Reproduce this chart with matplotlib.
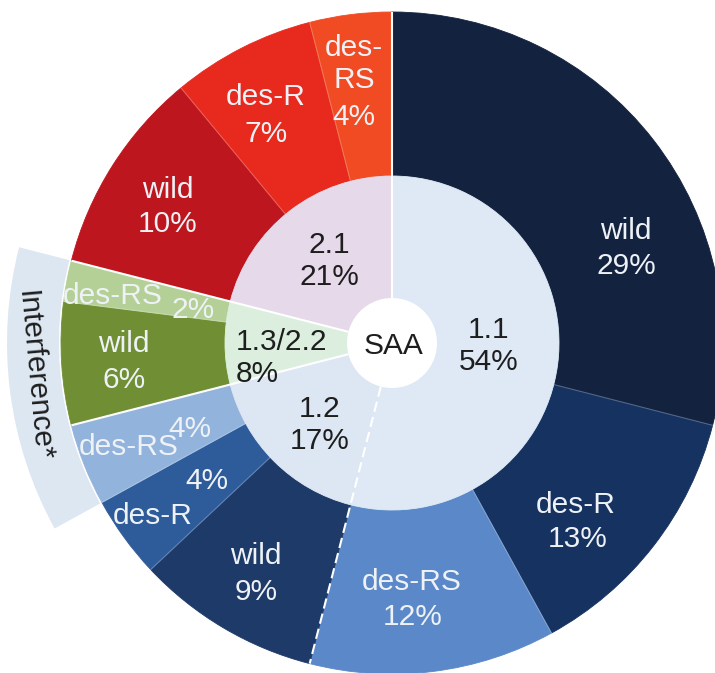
import matplotlib.pyplot as plt
import numpy as np
from matplotlib.patches import Wedge, Circle

plt.rcParams['font.family'] = ['Liberation Sans', 'DejaVu Sans']

# inner ring: groups, share of all SAA (%)
groups = ["1.1", "1.2", "1.3/2.2", "2.1"]
group_pct = [54, 17, 8, 21]

# outer ring: variants of each group, clockwise from 12 o'clock
variants = ["wild", "des-R", "des-RS",
            "wild", "des-R", "des-RS",
            "wild", "des-RS",
            "wild", "des-R", "des-RS"]
variant_pct = [29, 13, 12, 9, 4, 4, 6, 2, 10, 7, 4]

# variants covered by the "Interference*" band
band_variants = [5, 6, 7]
band_label = "Interference*"
centre_label = "SAA"

inner_colors = ["#dee9f5", "#dde7f3", "#dcefdf", "#e6d9ea"]
outer_colors = ["#13223f", "#163260", "#5a88c8",
                "#1d3a69", "#2e5c9b", "#92b3dc",
                "#708f34", "#b4d096",
                "#be161e", "#e8291e", "#f04b23"]
band_color = "#dce7f2"

# label placement, pixels from top-left: (name x, name y, pct x, pct y)
outer_label_pos = [(626, 231, 626, 266), (576, 505, 578, 539), (412, 582, 413, 617),
                   (256, 556, 256, 592), (153, 516, 207, 481), (129, 447, 190, 429),
                   (124, 344, 124, 380), (113, 296, 193, 310),
                   (168, 190, 168, 224), (266, 97, 266, 134), (354, 64, 354, 117)]
inner_label_pos = [(489, 346, 'center'), (320, 425, 'center'),
                   (236, 358, 'left'), (329, 261, 'center')]

W, H = 715, 673
CX, CY = 392, H - 343
R_OUT, R_IN, R_HOLE = 331, 167, 45
R_BAND = 385
FS = 21.5


def px(x, y):
    return x, H - y


fig = plt.figure(figsize=(W / 100, H / 100), dpi=100)
ax = fig.add_axes([0, 0, 1, 1])

# boundaries of the outer slices (degrees, going clockwise)
vb = 90 - 3.6 * np.cumsum([0] + variant_pct)
gb = 90 - 3.6 * np.cumsum([0] + group_pct)

# band behind the pie
t1 = vb[band_variants[-1] + 1]
t2 = vb[band_variants[0]]
ax.add_patch(Wedge((CX, CY), R_BAND, t1, t2, width=R_BAND - R_OUT - 2,
                   facecolor=band_color, lw=0))

wo, _ = ax.pie(variant_pct, radius=R_OUT, center=(CX, CY), startangle=90,
               counterclock=False, colors=outer_colors,
               wedgeprops=dict(width=R_OUT - R_IN, lw=0.6))
for w, c in zip(wo, outer_colors):
    w.set_edgecolor(c)
wi, _ = ax.pie(group_pct, radius=R_IN, center=(CX, CY), startangle=90,
               counterclock=False, colors=inner_colors,
               wedgeprops=dict(width=R_IN - R_HOLE + 2, lw=0.6))
for w, c in zip(wi, inner_colors):
    w.set_edgecolor(c)

# faint lines inside a group
for a in vb[1:-1]:
    if np.any(np.isclose(a, gb)):
        continue
    t = np.deg2rad(a)
    r = np.array([R_IN, R_OUT])
    ax.plot(CX + r * np.cos(t), CY + r * np.sin(t), color='white', lw=0.8, alpha=0.25)

# white lines between groups, dashed between 1.1 and 1.2
for k, a in enumerate(gb[:-1]):
    t = np.deg2rad(a)
    r = np.array([R_HOLE, R_OUT])
    ls = (0, (5, 2.5)) if k == 1 else '-'
    ax.plot(CX + r * np.cos(t), CY + r * np.sin(t), color='white', lw=1.5,
            ls=ls, solid_capstyle='butt', zorder=3)

ax.add_patch(Circle((CX, CY), R_HOLE, facecolor='white', lw=0, zorder=4))
ax.text(*px(393, 346), centre_label, fontsize=FS, color='#1e1e1e',
        ha='center', va='center', zorder=5)

# outer labels
for i, (name, pct) in enumerate(zip(variants, variant_pct)):
    nx, ny, qx, qy = outer_label_pos[i]
    shown = "des-\nRS" if i == len(variants) - 1 else name
    ax.text(*px(nx, ny), shown, fontsize=FS, color='#eef2f6', ha='center',
            va='center', linespacing=1.15, zorder=5)
    ax.text(*px(qx, qy), f"{pct}%", fontsize=FS, color='#eef2f6', ha='center',
            va='center', zorder=5)

# inner labels
for g, pct, (x, y, ha) in zip(groups, group_pct, inner_label_pos):
    ax.text(*px(x, y), f"{g}\n{pct}%", fontsize=FS, color='#1e1e1e', ha=ha,
            va='center', multialignment=ha, linespacing=1.2, zorder=5)

# band label
mid = np.deg2rad((t1 + t2) / 2 - 2)
rm = (R_OUT + R_BAND) / 2 + 2
ax.text(CX + rm * np.cos(mid), CY + rm * np.sin(mid), band_label, fontsize=FS,
        color='#1e1e1e', ha='center', va='center',
        rotation=np.rad2deg(mid) - 270, rotation_mode='anchor', zorder=5)

ax.set_xlim(0, W)
ax.set_ylim(0, H)
ax.set_aspect('equal')
ax.axis('off')

fig.savefig("out.png", dpi=100)
